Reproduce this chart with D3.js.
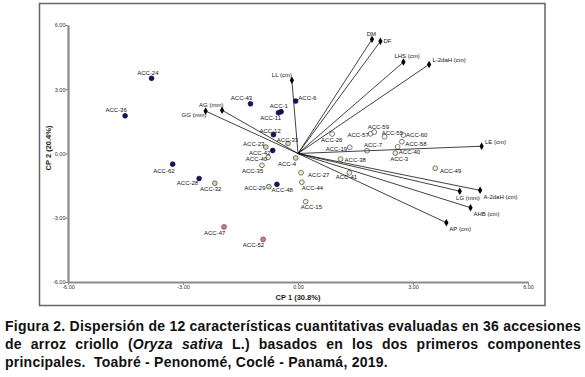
<!DOCTYPE html>
<html><head><meta charset="utf-8">
<script src="https://cdn.jsdelivr.net/npm/d3@7"></script>
<style>body{margin:0;background:#fff}svg{display:block}</style>
</head><body>
<svg id="c" width="585" height="377"></svg>
<script>
// ---------- DATA ----------
const accNames = ["ACC-24","ACC-36","ACC-43","ACC-1","ACC-11","ACC-6","ACC-12","ACC-42","ACC-62","ACC-28","ACC-48",
  "ACC-23","ACC-33","ACC-4","ACC-32","ACC-29",
  "ACC-40","ACC-35","ACC-27","ACC-44","ACC-15","ACC-38","ACC-41","ACC-3","ACC-49",
  "ACC-47","ACC-52",
  "ACC-26","ACC-19","ACC-57","ACC-59","ACC-55","ACC-60","ACC-58","ACC-40","ACC-7"];
const accX = [-3.82,-4.51,-1.24,-0.44,-0.51,-0.06,-0.64,-0.66,-3.27,-2.58,-0.55,
  -0.84,-0.26,-0.06,-2.17,-0.76,
  -0.78,-0.94,0.08,0.10,0.20,1.11,1.34,2.54,3.58,
  -1.93,-0.91,
  0.89,1.35,1.89,1.99,2.26,2.75,2.71,2.60,1.80];
const accY = [3.51,1.76,2.32,1.95,1.90,2.45,0.88,0.14,-0.50,-1.17,-1.44,
  0.30,0.47,-0.21,-1.39,-1.55,
  -0.18,-0.55,-0.90,-1.34,-2.25,-0.26,-0.90,0.02,-0.69,
  -3.43,-4.01,
  0.91,0.29,0.92,1.00,0.78,0.86,0.55,0.31,0.13];
const accGroup = ["1","1","1","1","1","1","1","1","1","1","1",
  "2","2","2","2","2",
  "3","3","3","3","3","3","3","3","3",
  "4","4",
  "5","5","5","5","5","5","5","5","5"];
const varNames = ["DM","DF","LHS (cm)","L-2daH (cm)","LE (cm)","LG (mm)","A-2daH (cm)","AHB (cm)","AP (cm)","LL (cm)","AG (mm)","GG (mm)"];
const varX = [1.93,2.15,2.75,3.42,4.79,4.22,4.75,4.50,3.87,-0.16,-1.98,-2.41];
const varY = [5.33,5.24,4.27,4.16,0.34,-1.76,-1.72,-2.53,-3.23,3.42,2.02,1.98];
const xTicks = [-6,-3,0,3,6];
const xTickLabels = ["-6.00","-3.00","0.00","3.00","6.00"];
const yTicks = [-6,-3,0,3,6];
const yTickLabels = ["-6.00","-3.00","0.00","3.00","6.00"];
const xTitle = "CP 1 (30.8%)";
const yTitle = "CP 2 (20.4%)";
const captionLines = [
  [[["Figura"]],[["2."]],[["Dispersión"]],[["de"]],[["12"]],[["características"]],[["cuantitativas"]],[["evaluadas"]],[["en"]],[["36"]],[["accesiones"]]],
  [[["de"]],[["arroz"]],[["criollo"]],[["("],["Oryza",1]],[["sativa",1]],[["L.)"]],[["basados"]],[["en"]],[["los"]],[["dos"]],[["primeros"]],[["componentes"]]],
  [[["principales."]],[[""]],[["Toabré"]],[["-"]],[["Penonomé,"]],[["Coclé"]],[["-"]],[["Panamá,"]],[["2019."]]]
];

// ---------- LAYOUT / STYLE ----------
const groupFill = {"1":"#11136e","2":"#b8e6a4","3":"#f6f2c0","4":"#e37a7a","5":"#ffffff"};
const accLabelOff = [[-14.4,-3],[-19.7,-3.4],[-19.6,-3.4],[-11.3,-3.7],[-18.3,7.6],[2.6,-1.3],[-14,-1.7],[-23.7,4],[-19.4,8.7],[-22.3,6.8],[-5.3,7.7],
  [-22.7,-1.3],[-11.2,-1.5],[-17.7,8.3],[-14.7,7.7],[-24.7,3.3],
  [-22.3,3.7],[-20,7.7],[7,4.6],[0,7.7],[-5,7],[4,3.3],[-13.6,6],[-5.2,7.7],[4.7,4.4],
  [-20,8.3],[-20.3,7.4],
  [-11,7.7],[-24,3.7],[-23,3],[-6.6,-2.7],[-3,-1.4],[2.7,1.7],[3.3,4.3],[1.2,7.2],[-3,-3.7]];
const varLabelOff = [[-5.3,-3.3],[3,2],[-9,-4],[3.3,-2.3],[3.3,-2.2],[-3.7,8.7],[3.3,8.7],[3,8.3],[3,8.3],[-20,-3.3],[-23,-3],[-24,6]];

const svg = d3.select("#c");
const FONT = "'Liberation Sans', Arial, sans-serif";

// frame
svg.append("rect").attr("x",39.5).attr("y",3.5).attr("width",505.5).attr("height",302)
  .attr("fill","none").attr("stroke","#666").attr("stroke-width",1.5);

const x = d3.scaleLinear().domain([-6,6]).range([68,528]);
const y = d3.scaleLinear().domain([-6,6]).range([282,25]);

// axes
const xAxis = d3.axisBottom(x).tickValues(xTicks).tickFormat((d,i)=>xTickLabels[i]).tickSize(3).tickSizeOuter(0);
const yAxis = d3.axisLeft(y).tickValues(yTicks).tickFormat((d,i)=>yTickLabels[i]).tickSize(3).tickSizeOuter(0);
const gx = svg.append("g").attr("transform","translate(0,282)").call(xAxis);
const gy = svg.append("g").attr("transform","translate(68,0)").call(yAxis);
[gx,gy].forEach(g=>{
  g.select(".domain").attr("stroke","#8a8a8a").attr("stroke-width",2.2);
  g.selectAll(".tick line").attr("stroke","#8a8a8a").attr("stroke-width",1);
  g.selectAll(".tick text").attr("fill","#333").attr("font-family",FONT).attr("font-size",5.5);
});
gx.selectAll(".tick text").attr("dy","0.9em").attr("y",2);
gy.selectAll(".tick text").attr("x",-2.5);

// axis titles
svg.append("text").attr("x",298).attr("y",300).attr("text-anchor","middle")
  .attr("font-family",FONT).attr("font-weight","bold").attr("font-size",7.5).attr("fill","#222").text(xTitle);
svg.append("text").attr("transform","translate(51,148) rotate(-90)").attr("text-anchor","middle")
  .attr("font-family",FONT).attr("font-weight","bold").attr("font-size",7.5).attr("fill","#222").text(yTitle);

// points
const pts = accNames.map((n,i)=>({n, x:accX[i], y:accY[i], g:accGroup[i], off:accLabelOff[i]}));
svg.append("g").selectAll("circle").data(pts).join("circle")
  .attr("cx",d=>x(d.x)).attr("cy",d=>y(d.y)).attr("r",2.4)
  .attr("fill",d=>groupFill[d.g]).attr("stroke",d=>d.g==="1"?"#05053a":"#444").attr("stroke-width",0.7);

// vectors
const vars = varNames.map((n,i)=>({n, x:varX[i], y:varY[i], off:varLabelOff[i]}));
svg.append("g").selectAll("line").data(vars).join("line")
  .attr("x1",x(0)).attr("y1",y(0)).attr("x2",d=>x(d.x)).attr("y2",d=>y(d.y))
  .attr("stroke","#111").attr("stroke-width",0.8);
svg.append("g").selectAll("path").data(vars).join("path")
  .attr("d",d3.symbol(d3.symbolDiamond,16))
  .attr("transform",d=>`translate(${x(d.x)},${y(d.y)})`).attr("fill","#000");

// labels
svg.append("g").selectAll("text").data(pts).join("text")
  .attr("x",d=>x(d.x)+d.off[0]).attr("y",d=>y(d.y)+d.off[1])
  .attr("font-family",FONT).attr("font-size",6).attr("fill","#111").text(d=>d.n);
svg.append("g").selectAll("text").data(vars).join("text")
  .attr("x",d=>x(d.x)+d.off[0]).attr("y",d=>y(d.y)+d.off[1])
  .attr("font-family",FONT).attr("font-size",6).attr("fill","#111").text(d=>d.n);

// caption
const capG = svg.append("g").attr("font-family",FONT).attr("font-weight","bold").attr("font-size",14).attr("fill","#111");
const X0 = 5, X1 = 581, baselines = [331,349,367];
function makeWords(line, yb, ls){
  return line.map(w=>{
    const t = capG.append("text").attr("y",yb).attr("letter-spacing",ls);
    w.forEach(seg=>t.append("tspan").attr("font-style",seg[1]?"italic":null).text(seg[0]));
    return t;
  });
}
const probe = capG.append("text").attr("x",0).attr("y",-50).text("a b");
const probe2 = capG.append("text").attr("x",0).attr("y",-50).text("ab");
const spaceW = probe.node().getComputedTextLength()-probe2.node().getComputedTextLength();
probe.remove(); probe2.remove();
let ls = 0;
{
  const els = makeWords(captionLines[0], baselines[0], 0);
  const w = d3.sum(els, e=>e.node().getComputedTextLength());
  const nch = d3.sum(captionLines[0], wd=>d3.sum(wd, s=>s[0].length));
  const gaps = captionLines[0].length-1;
  ls = (X1-X0-w-gaps*spaceW)/(nch+gaps);
  els.forEach(e=>e.remove());
}
captionLines.forEach((line,li)=>{
  const els = makeWords(line, baselines[li], ls);
  const widths = els.map(e=>e.node().getComputedTextLength());
  const total = d3.sum(widths);
  const gap = li<2 ? (X1-X0-total)/(line.length-1) : spaceW+ls;
  let cx = X0;
  els.forEach((e,i)=>{ e.attr("x",cx); cx += widths[i] + gap; });
});
</script>
</body></html>
